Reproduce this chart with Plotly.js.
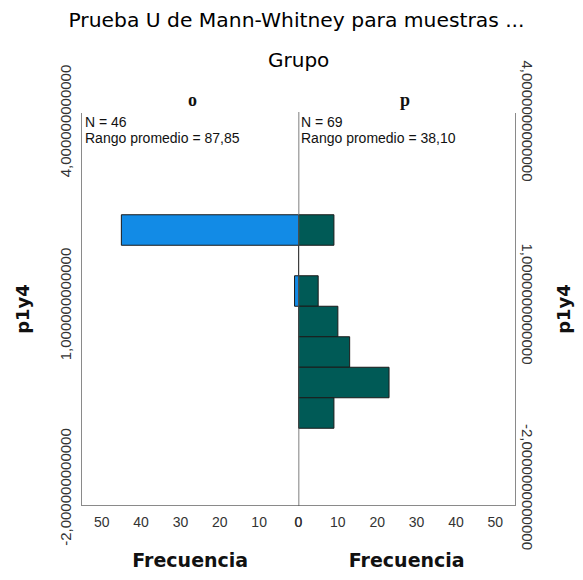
<!DOCTYPE html>
<html>
<head>
<meta charset="utf-8">
<script src="https://cdn.plot.ly/plotly-3.0.1.min.js"></script>
<style>html,body{margin:0;padding:0;background:#fff;}#chart{width:583px;height:580px;}</style>
</head>
<body>
<div id="chart"></div>
<script>
// Bin centres of p1y4 (bin width 0.5) and frequencies per group
const bins = [2.25, 1.75, 1.25, 0.75, 0.25, -0.25, -0.75];
const freqO = [45, 0, 1, 0, 0, 0, 0];
const freqP = [9, 0, 5, 10, 13, 23, 9];
const xTickVals = [0, 10, 20, 30, 40, 50];
const xTickText = ['0', '10', '20', '30', '40', '50'];
const yTickVals = [-2, 1, 4];
const yTickLeft = ['-2,000000000000', '1,000000000000', '4,000000000000'];
const yTickRight = ['-2,0000000000000', '1,0000000000000', '4,0000000000000'];
const groups = ['o', 'p'];
const nO = 46, nP = 69;
const rankO = '87,85', rankP = '38,10';

const W = 583, H = 580;
const px = v => v / W, py = v => 1 - v / H;
const xL0 = px(82), xMid = px(298.5), xR1 = px(515);
const yB = py(505), yT = py(113);
const yRange = [-2.258, 4.168];
const axisCol = '#8a8a8a';
const sans = 'Liberation Sans, Arial, sans-serif';
const dv = 'DejaVu Sans, sans-serif';

const traces = [
  {type: 'bar', orientation: 'h', y: bins, x: freqO, width: 0.5, xaxis: 'x', yaxis: 'y',
   marker: {color: '#128be6', line: {color: '#1a1a1a', width: 1}}, hoverinfo: 'x+y'},
  {type: 'bar', orientation: 'h', y: bins, x: freqP, width: 0.5, xaxis: 'x2', yaxis: 'y2',
   marker: {color: '#005a56', line: {color: '#1a1a1a', width: 1}}, hoverinfo: 'x+y'}
];

const xCommon = {
  range: [0, 55], tickvals: xTickVals, ticktext: xTickText, ticks: '', showgrid: false,
  zeroline: false, showline: true, linecolor: axisCol, linewidth: 1, ticklabelstandoff: 4,
  tickfont: {family: sans, size: 14, color: '#333'}, fixedrange: true
};
const xTitle = {text: '<b>Frecuencia</b>', font: {family: dv, size: 19, color: '#111'}, standoff: 24};

const layout = {
  width: W, height: H, margin: {l: 0, r: 0, t: 0, b: 0},
  paper_bgcolor: '#fff', plot_bgcolor: '#fff', showlegend: false, bargap: 0,
  title: {text: 'Prueba U de Mann-Whitney para muestras ...', x: 296.5 / W, xanchor: 'center',
          y: py(20), yanchor: 'middle', font: {family: dv, size: 20.3, color: '#000'}},
  xaxis: Object.assign({}, xCommon, {domain: [xL0, xMid], range: [55, 0], anchor: 'y', title: xTitle}),
  xaxis2: Object.assign({}, xCommon, {domain: [xMid, xR1], anchor: 'y2', title: xTitle}),
  yaxis: {domain: [yB, yT], range: yRange, anchor: 'x', side: 'left', tickvals: yTickVals,
          ticktext: yTickLeft, tickangle: -90, ticks: '', showgrid: false, zeroline: false,
          showline: true, linecolor: axisCol, ticklabelstandoff: 4,
          tickfont: {family: sans, size: 15, color: '#333'},
          title: {text: '<b>p1y4</b>', font: {family: dv, size: 18, color: '#111'}, standoff: 22},
          fixedrange: true},
  yaxis2: {domain: [yB, yT], range: yRange, anchor: 'x2', side: 'right', tickvals: yTickVals,
          ticktext: yTickRight, tickangle: 90, ticks: '', showgrid: false, zeroline: false,
          showline: true, linecolor: axisCol, tickfont: {family: sans, size: 15, color: '#333'},
          title: {text: '<b>p1y4</b>', font: {family: dv, size: 18, color: '#111'}}, fixedrange: true},
  shapes: [
    {type: 'line', xref: 'x2', x0: 0, x1: 0, yref: 'paper', y0: py(506), y1: py(112),
     line: {color: '#555', width: 1.5}}
  ],
  annotations: [
    {text: 'Grupo', xref: 'paper', yref: 'paper', x: px(298), y: py(60), showarrow: false,
     xanchor: 'center', yanchor: 'middle', font: {family: dv, size: 20, color: '#000'}},
    {text: '<b>' + groups[0] + '</b>', xref: 'paper', yref: 'paper', x: px(192), y: py(100), showarrow: false,
     xanchor: 'center', yanchor: 'middle', font: {family: 'Liberation Serif, serif', size: 18, color: '#111'}},
    {text: '<b>' + groups[1] + '</b>', xref: 'paper', yref: 'paper', x: px(405), y: py(100), showarrow: false,
     xanchor: 'center', yanchor: 'middle', font: {family: 'Liberation Serif, serif', size: 18, color: '#111'}},
    {text: 'N = ' + nO, xref: 'paper', yref: 'paper', x: px(83), y: py(122), showarrow: false,
     xanchor: 'left', yanchor: 'middle', font: {family: sans, size: 14, color: '#111'}},
    {text: 'Rango promedio = ' + rankO, xref: 'paper', yref: 'paper', x: px(83), y: py(138), showarrow: false,
     xanchor: 'left', yanchor: 'middle', font: {family: sans, size: 14, color: '#111'}},
    {text: 'N = ' + nP, xref: 'paper', yref: 'paper', x: px(299), y: py(122), showarrow: false,
     xanchor: 'left', yanchor: 'middle', font: {family: sans, size: 14, color: '#111'}},
    {text: 'Rango promedio = ' + rankP, xref: 'paper', yref: 'paper', x: px(299), y: py(138), showarrow: false,
     xanchor: 'left', yanchor: 'middle', font: {family: sans, size: 14, color: '#111'}}
  ]
};

Plotly.newPlot('chart', traces, layout, {displayModeBar: false, staticPlot: true});
</script>
</body>
</html>
